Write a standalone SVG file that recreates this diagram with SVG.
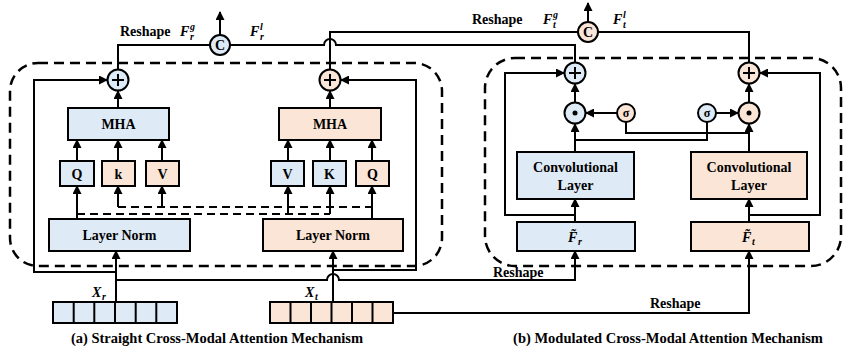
<svg xmlns="http://www.w3.org/2000/svg" width="845" height="348" viewBox="0 0 845 348">
<defs>
<marker id="ah" markerUnits="userSpaceOnUse" markerWidth="9" markerHeight="9" refX="8" refY="4.5" orient="auto">
<path d="M0,0 L9,4.5 L0,9 z" fill="#000"/>
</marker>
<style>
text{font-family:"Liberation Serif","Times New Roman",serif;font-weight:bold;fill:#000}
.t{font-size:14px;text-anchor:middle;dominant-baseline:central}
.cap{font-size:14.5px;text-anchor:middle}
.lbl{font-size:14px}
.it{font-style:italic}
.b{fill:#DEEBF7;stroke:#000;stroke-width:2}
.o{fill:#FBE5D6;stroke:#000;stroke-width:2}
.ln{fill:none;stroke:#000;stroke-width:2}
.arr{fill:none;stroke:#000;stroke-width:2;marker-end:url(#ah)}
.dash{fill:none;stroke:#000;stroke-width:2;stroke-dasharray:8 5}
.region{fill:none;stroke:#000;stroke-width:2.5;stroke-dasharray:10 6}
.sig{font-size:12px;text-anchor:middle;dominant-baseline:central;font-style:normal}
</style>
</defs>
<rect width="845" height="348" fill="#fff"/>

<!-- regions -->
<g id="regionA"><rect class="region" x="10" y="63" width="432" height="203" rx="28"/></g>
<g id="regionB"><rect class="region" x="485" y="58" width="356" height="208" rx="30"/></g>

<!-- connectors -->
<g id="connectors">
<!-- (a) -->
<line class="arr" x1="118" y1="108" x2="118" y2="91"/>
<line class="arr" x1="330" y1="108" x2="330" y2="91"/>
<line class="arr" x1="77" y1="161" x2="77" y2="140"/>
<line class="arr" x1="118" y1="161" x2="118" y2="140"/>
<line class="arr" x1="162" y1="161" x2="162" y2="140"/>
<line class="arr" x1="288" y1="161" x2="288" y2="140"/>
<line class="arr" x1="330" y1="161" x2="330" y2="140"/>
<line class="arr" x1="372" y1="161" x2="372" y2="140"/>
<line class="arr" x1="77" y1="219" x2="77" y2="186"/>
<line class="arr" x1="372" y1="219" x2="372" y2="186"/>
<path class="dash" d="M77,214 H330"/>
<path class="dash" d="M118,207 H372"/>
<line class="arr" x1="118" y1="207" x2="118" y2="186"/>
<line class="arr" x1="162" y1="207" x2="162" y2="186"/>
<line class="arr" x1="288" y1="214" x2="288" y2="186"/>
<line class="arr" x1="330" y1="214" x2="330" y2="186"/>
<line class="arr" x1="116" y1="302" x2="116" y2="251"/>
<line class="arr" x1="333" y1="302" x2="333" y2="251"/>
<path class="arr" d="M116,272 H34 V80 H107"/>
<path class="arr" d="M333,270 H416 V80 H341"/>
<path class="arr" d="M116,280 H327 A6,6 0 0 1 339,280 H575 V251"/>
<path class="arr" d="M393,313 H749 V251"/>
<!-- top -->
<path class="ln" d="M118,69 V45 H210"/>
<path class="ln" d="M230,45 H324 A6,6 0 0 1 336,45 H575 V63"/>
<path class="ln" d="M330,69 V32 H578"/>
<path class="ln" d="M598,32 H749 V63"/>
<line class="arr" x1="220" y1="35" x2="220" y2="12"/>
<line class="arr" x1="588" y1="22" x2="588" y2="3"/>
<!-- (b) -->
<line class="arr" x1="575" y1="103" x2="575" y2="84"/>
<line class="arr" x1="749" y1="103" x2="749" y2="84"/>
<line class="arr" x1="617" y1="113" x2="586" y2="113"/>
<line class="arr" x1="716" y1="113" x2="738" y2="113"/>
<line class="arr" x1="575" y1="152" x2="575" y2="124"/>
<line class="arr" x1="749" y1="152" x2="749" y2="124"/>
<path class="ln" d="M707,122 V140 H575"/>
<path class="ln" d="M626,122 V133 H749"/>
<line class="arr" x1="575" y1="222" x2="575" y2="199"/>
<line class="arr" x1="749" y1="222" x2="749" y2="199"/>
<path class="arr" d="M575,215 H505 V73 H564"/>
<path class="arr" d="M749,215 H820 V73 H760"/>
</g>

<!-- labels -->
<g id="labels">
<text class="lbl" x="120" y="36">Reshape</text>
<text class="lbl it" x="180" y="36">F</text><text class="it" font-size="10" x="190" y="30">g</text><text class="it" font-size="10" x="190" y="40">r</text>
<text class="lbl it" x="250" y="36">F</text><text class="it" font-size="10" x="260" y="30">l</text><text class="it" font-size="10" x="260" y="40">r</text>
<text class="lbl" x="472" y="24">Reshape</text>
<text class="lbl it" x="543" y="24">F</text><text class="it" font-size="10" x="553" y="18">g</text><text class="it" font-size="10" x="553" y="28">t</text>
<text class="lbl it" x="613" y="24">F</text><text class="it" font-size="10" x="623" y="18">l</text><text class="it" font-size="10" x="623" y="28">t</text>
<text class="lbl" x="493" y="277">Reshape</text>
<text class="lbl" x="650" y="308">Reshape</text>
<text class="lbl it" x="92" y="297">X</text><text class="it" font-size="10" x="102" y="300">r</text>
<text class="lbl it" x="305" y="297">X</text><text class="it" font-size="10" x="315" y="300">t</text>
<text class="cap" x="217" y="343">(a) Straight Cross-Modal Attention Mechanism</text>
<text class="cap" x="668" y="343">(b) Modulated Cross-Modal Attention Mechanism</text>
</g>

<!-- (a) nodes -->
<g id="plusRL"><circle class="b" cx="118" cy="80" r="10.5"/><path class="ln" d="M112,80 H124 M118,74 V86"/></g>
<g id="plusRT"><circle class="o" cx="330" cy="80" r="10.5"/><path class="ln" d="M324,80 H336 M330,74 V86"/></g>
<g id="mhaL"><rect class="b" x="68" y="108" width="101" height="32"/><text class="t" x="118.5" y="124">MHA</text></g>
<g id="mhaR"><rect class="o" x="279" y="108" width="102" height="32"/><text class="t" x="330" y="124">MHA</text></g>
<g id="qL"><rect class="b" x="60" y="161" width="34" height="25"/><text class="t" x="77" y="174">Q</text></g>
<g id="kL"><rect class="o" x="102" y="161" width="33" height="25"/><text class="t" x="118.5" y="174">k</text></g>
<g id="vL"><rect class="o" x="146" y="161" width="33" height="25"/><text class="t" x="162.5" y="174">V</text></g>
<g id="vR"><rect class="b" x="271" y="161" width="33" height="25"/><text class="t" x="287.5" y="174">V</text></g>
<g id="kR"><rect class="b" x="313" y="161" width="33" height="25"/><text class="t" x="329.5" y="174">K</text></g>
<g id="qR"><rect class="o" x="356" y="161" width="33" height="25"/><text class="t" x="372.5" y="174">Q</text></g>
<g id="lnL"><rect class="b" x="49" y="219" width="141" height="32"/><text class="t" x="119.5" y="235">Layer Norm</text></g>
<g id="lnR"><rect class="o" x="263" y="219" width="140" height="32"/><text class="t" x="333" y="235">Layer Norm</text></g>
<g id="xr"><rect class="b" x="53" y="302" width="124" height="21"/><path class="ln" d="M73.7,302 V323 M94.3,302 V323 M115,302 V323 M135.7,302 V323 M156.3,302 V323"/></g>
<g id="xt"><rect class="o" x="270" y="302" width="123" height="21"/><path class="ln" d="M290.5,302 V323 M311,302 V323 M331.5,302 V323 M352,302 V323 M372.5,302 V323"/></g>
<g id="cR"><circle class="b" cx="220" cy="45" r="10"/><text class="t" x="220" y="45.5">C</text></g>
<g id="cT"><circle class="o" cx="588" cy="32" r="10"/><text class="t" x="588" y="32.5">C</text></g>

<!-- (b) nodes -->
<g id="plusBL"><circle class="b" cx="575" cy="73" r="10.5"/><path class="ln" d="M569,73 H581 M575,67 V79"/></g>
<g id="plusBR"><circle class="o" cx="749" cy="73" r="10.5"/><path class="ln" d="M743,73 H755 M749,67 V79"/></g>
<g id="dotL"><circle class="b" cx="575" cy="113" r="10.5"/><circle cx="575" cy="113" r="2.5" fill="#000"/></g>
<g id="dotR"><circle class="o" cx="749" cy="113" r="10.5"/><circle cx="749" cy="113" r="2.5" fill="#000"/></g>
<g id="sigO"><circle class="o" cx="626" cy="113" r="9"/><text class="sig" x="626" y="112.5">σ</text></g>
<g id="sigB"><circle class="b" cx="707" cy="113" r="9"/><text class="sig" x="707" y="112.5">σ</text></g>
<g id="convL"><rect class="b" x="517" y="152" width="117" height="47"/><text class="t" x="575.5" y="167">Convolutional</text><text class="t" x="575.5" y="185">Layer</text></g>
<g id="convR"><rect class="o" x="691" y="152" width="116" height="47"/><text class="t" x="749" y="167">Convolutional</text><text class="t" x="749" y="185">Layer</text></g>
<g id="fr"><rect class="b" x="517" y="222" width="118" height="29"/><text class="it" font-size="14" x="568" y="242">F̃</text><text class="it" font-size="10" x="578" y="245">r</text></g>
<g id="ft"><rect class="o" x="691" y="222" width="118" height="29"/><text class="it" font-size="14" x="742" y="242">F̃</text><text class="it" font-size="10" x="752" y="245">t</text></g>
</svg>
